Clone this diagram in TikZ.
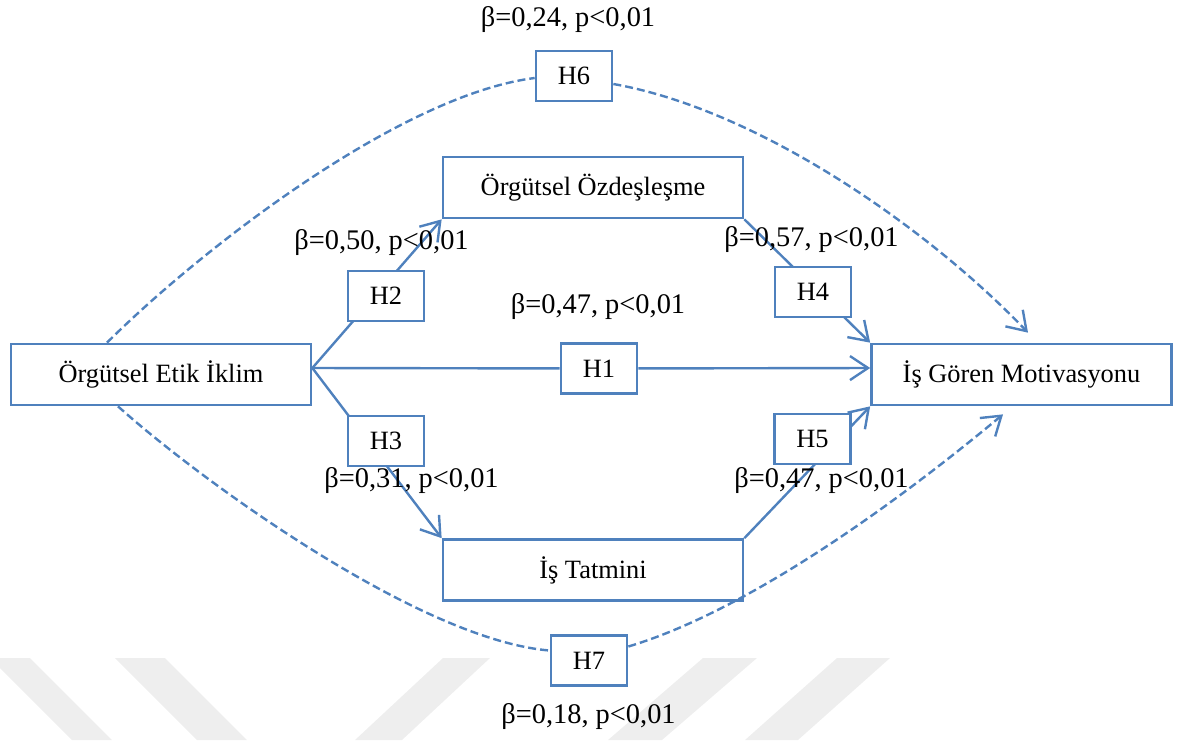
\documentclass[tikz,border=0pt]{standalone}
\usepackage{fontspec}
\setmainfont{Liberation Serif}
\usetikzlibrary{arrows.meta}
\definecolor{pathblue}{HTML}{4F81BD}
\definecolor{markgrey}{HTML}{EEEEEE}
\begin{document}
\begin{tikzpicture}[x=0.5pt,y=-0.5pt,
  construct/.style={draw=pathblue, line width=1.35pt, fill=white,
    minimum width=150pt, minimum height=30.5pt, inner sep=0pt,
    font=\fontsize{13.2}{15}\selectfont},
  hyp/.style={draw=pathblue, line width=1.35pt, fill=white,
    minimum width=38pt, minimum height=25pt, inner sep=0pt,
    font=\fontsize{13.2}{15}\selectfont},
  coef/.style={inner sep=0pt, font=\fontsize{14.2}{16}\selectfont},
  link/.style={draw=pathblue, line width=1.2pt},
  tip/.style={-{Straight Barb[length=9pt,width=12pt]}},
  indirect/.style={link, dash pattern=on 4pt off 2pt}]
\useasboundingbox (0,0) rectangle (1186,740);

% faint background stripes along the bottom edge
\fill[markgrey] (-10,658) -- (30,658) -- (112,740) -- (72,740) -- cycle;
\fill[markgrey] (115,658) -- (165,658) -- (247,740) -- (197,740) -- cycle;
\fill[markgrey] (443,658) -- (490,658) -- (402,740) -- (355,740) -- cycle;
\fill[markgrey] (703,658) -- (757,658) -- (662,740) -- (608,740) -- cycle;
\fill[markgrey] (837,658) -- (890,658) -- (798,740) -- (745,740) -- cycle;

% constructs
\node[construct] (etik) at (161,374.5) {Örgütsel Etik İklim};
\node[construct] (ozd)  at (593,187.5) {Örgütsel Özdeşleşme};
\node[construct] (tat)  at (593,570)   {İş Tatmini};
\node[construct] (mot)  at (1021.5,374.5) {İş Gören Motivasyonu};

\coordinate (src) at ([yshift=3.25pt]etik.east);

% hypothesis boxes
\node[hyp] (h1) at (599,368.5) {H1};
\node[hyp] (h6) at (574,76)    {H6};
\node[hyp] (h7) at (589,660.5) {H7};

% direct paths
\draw[link] (src) -- (h1);
\draw[link,tip] (h1) -- (mot.west |- src);
\draw[link,tip] (src) -- (ozd.south west);
\draw[link,tip] (src) -- (tat.north west);
\draw[link,tip] (ozd.south east) -- (mot.north west);
\draw[link,tip] (tat.north east) -- (mot.south west);

% mediated (dashed) paths
\draw[indirect] ([xshift=-27pt]etik.north) .. controls (200,250) and (400,95) .. ([yshift=-1pt]h6.west);
\draw[indirect,tip] ([yshift=-4pt]h6.east) .. controls (760,110) and (930,230) .. ([xshift=3.25pt,yshift=5pt]mot.north);
\draw[indirect] ([xshift=-21.5pt]etik.south) .. controls (200,480) and (420,640) .. ([yshift=5pt]h7.west);
\draw[indirect,tip] ([yshift=7pt]h7.east) .. controls (750,610) and (900,500) .. ([xshift=-9.25pt,yshift=-4pt]mot.south);

% boxes sitting on the direct paths
\node[hyp] (h2) at (386,296)   {H2};
\node[hyp] (h3) at (386,441)   {H3};
\node[hyp] (h4) at (813,292)   {H4};
\node[hyp] (h5) at (812.5,439) {H5};

% path coefficients
\node[coef] (c6) at (568,20)    {β=0,24, p<0,01};
\node[coef] (c2) at (381.5,243) {β=0,50, p<0,01};
\node[coef] (c4) at (811.5,240) {β=0,57, p<0,01};
\node[coef] (c1) at (598,307)   {β=0,47, p<0,01};
\node[coef] (c3) at (411.5,481) {β=0,31, p<0,01};
\node[coef] (c5) at (821.5,481) {β=0,47, p<0,01};
\node[coef] (c7) at (588.5,717) {β=0,18, p<0,01};
\end{tikzpicture}
\end{document}
